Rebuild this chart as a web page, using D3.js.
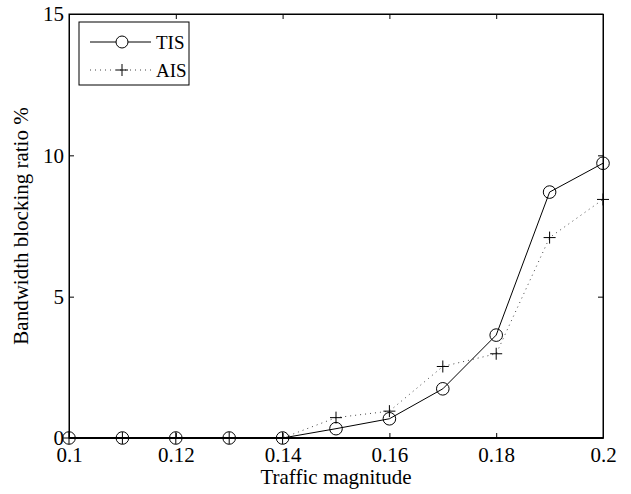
<!DOCTYPE html>
<html>
<head>
<meta charset="utf-8">
<script src="https://cdn.jsdelivr.net/npm/d3@7"></script>
<style>
  body { margin: 0; background: #fff; }
  svg { display: block; }
</style>
</head>
<body>
<div class="chart"></div>
<script>
// values
var traffic = [0.1, 0.11, 0.12, 0.13, 0.14, 0.15, 0.16, 0.17, 0.18, 0.19, 0.2];
var tis = [0, 0, 0, 0, 0, 0.33, 0.68, 1.74, 3.64, 8.70, 9.72];
var ais = [0, 0, 0, 0, 0, 0.72, 0.95, 2.53, 2.98, 7.09, 8.44];
var xTicks = [0.1, 0.12, 0.14, 0.16, 0.18, 0.2];
var yTicks = [0, 5, 10, 15];
var seriesNames = ["TIS", "AIS"];

var svgWidth = 631;
var svgHeight = 494;
var margin = { top: 14, right: 28, bottom: 56, left: 69 };
var width = svgWidth - margin.left - margin.right;
var height = svgHeight - margin.top - margin.bottom;
var serif = "'Liberation Serif', 'Times New Roman', serif";

var svg = d3.select(".chart")
            .append("svg")
            .attr("width", svgWidth)
            .attr("height", svgHeight)
            .attr("font-family", serif)
            .style("font-family", serif);

var chart = svg.append("g")
               .attr("transform", `translate(${margin.left},${margin.top})`);

var x = d3.scaleLinear().domain([0.1, 0.2]).range([0, width]);
var y = d3.scaleLinear().domain([0, 15]).range([height, 0]);

// ticks inward, matlab style
var tickLen = 5;
var fmt = function(d) { return String(+d.toFixed(2)); };

function serifText(g) {
  g.attr("font-family", serif);
  g.selectAll("text").attr("font-family", serif).style("font-family", serif).style("font-size", "21px");
}

chart.append("g")
     .attr("transform", "translate(0," + height + ")")
     .call(d3.axisBottom(x).tickValues(xTicks).tickSizeInner(-tickLen).tickSizeOuter(0).tickPadding(9).tickFormat(fmt))
     .call(serifText);

chart.append("g")
     .call(d3.axisTop(x).tickValues(xTicks).tickSizeInner(-tickLen).tickSizeOuter(0).tickFormat(""));

chart.append("g")
     .call(d3.axisLeft(y).tickValues(yTicks).tickSizeInner(-tickLen).tickSizeOuter(0).tickPadding(5).tickFormat(d3.format("d")))
     .call(serifText);

chart.append("g")
     .attr("transform", "translate(" + width + ",0)")
     .call(d3.axisRight(y).tickValues(yTicks).tickSizeInner(-tickLen).tickSizeOuter(0).tickFormat(""));

chart.selectAll(".domain").attr("stroke", "#000").attr("stroke-width", 1);
chart.selectAll(".tick line").attr("stroke", "#000");

// frame
chart.append("rect")
     .attr("width", width).attr("height", height)
     .attr("fill", "none").attr("stroke", "#000").attr("stroke-width", 1);

var line = d3.line()
             .x(function(d, i) { return x(traffic[i]); })
             .y(function(d) { return y(d); });

// AIS dotted
chart.append("path")
     .datum(ais)
     .attr("d", line)
     .attr("fill", "none")
     .attr("stroke", "#444")
     .attr("stroke-width", 1)
     .attr("stroke-dasharray", "1,4");

// TIS solid
chart.append("path")
     .datum(tis)
     .attr("d", line)
     .attr("fill", "none")
     .attr("stroke", "#000")
     .attr("stroke-width", 1);

function plusMark(g, cx, cy) {
  g.append("path")
   .attr("d", `M${cx - 6},${cy}H${cx + 6}M${cx},${cy - 6}V${cy + 6}`)
   .attr("stroke", "#000").attr("stroke-width", 1).attr("fill", "none");
}

chart.selectAll("circle.tis")
     .data(tis)
     .enter().append("circle")
     .attr("class", "tis")
     .attr("cx", function(d, i) { return x(traffic[i]); })
     .attr("cy", function(d) { return y(d); })
     .attr("r", 6.3)
     .attr("fill", "none")
     .attr("stroke", "#000")
     .attr("stroke-width", 1);

ais.forEach(function(d, i) { plusMark(chart, x(traffic[i]), y(d)); });

// bottom axis line looks heavy where zero values run along it
chart.append("line")
     .attr("x1", 0).attr("x2", width)
     .attr("y1", height).attr("y2", height)
     .attr("stroke", "#000").attr("stroke-width", 2);

// legend
var legend = chart.append("g").attr("transform", "translate(10,8)");
legend.append("rect")
      .attr("width", 110).attr("height", 63)
      .attr("fill", "#fff").attr("stroke", "#000").attr("stroke-width", 1);

var leg0 = legend.append("g").attr("transform", "translate(0,20)");
leg0.append("line").attr("x1", 11).attr("x2", 72).attr("stroke", "#000");
leg0.append("circle").attr("cx", 43).attr("r", 6).attr("fill", "#fff").attr("stroke", "#000");
leg0.append("text").attr("x", 77).attr("y", 7).style("font-family", serif).style("font-size", "19px").text(seriesNames[0]);

var leg1 = legend.append("g").attr("transform", "translate(0,48)");
leg1.append("line").attr("x1", 11).attr("x2", 72).attr("stroke", "#444").attr("stroke-dasharray", "1,4");
plusMark(leg1, 43, 0);
leg1.append("text").attr("x", 77).attr("y", 7).style("font-family", serif).style("font-size", "19px").text(seriesNames[1]);

// axis labels
svg.append("text")
   .attr("x", margin.left + width / 2)
   .attr("y", 484)
   .attr("text-anchor", "middle")
   .style("font-family", serif)
   .style("font-size", "21px")
   .text("Traffic magnitude");

svg.append("text")
   .attr("transform", `translate(28,${margin.top + height / 2}) rotate(-90)`)
   .attr("text-anchor", "middle")
   .style("font-family", serif)
   .style("font-size", "21px")
   .text("Bandwidth blocking ratio %");
</script>
</body>
</html>
